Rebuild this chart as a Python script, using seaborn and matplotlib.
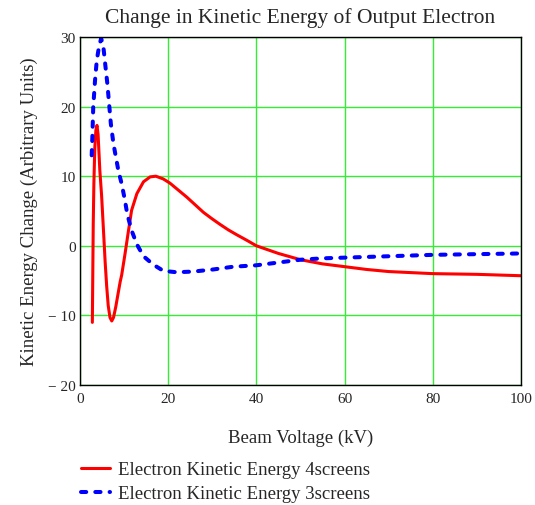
import numpy as np
import pandas as pd
import matplotlib
matplotlib.use("Agg")
import matplotlib.pyplot as plt
import seaborn as sns
from matplotlib.lines import Line2D

# Beam voltage (kV) and kinetic energy change for the 4-screen configuration
volts_4screens = [2.8, 2.9, 3.0, 3.15, 3.35, 3.6, 3.85, 4.1, 4.5, 4.9, 5.3, 5.7,
                  6.05, 6.4, 6.8, 7.2, 7.6, 8.1, 8.6, 9.1, 9.45, 10.2, 11.0,
                  11.7, 12.9, 14.4, 15.9, 17.2, 18.9, 20.4, 22.3, 24.2, 26.1,
                  28.0, 29.9, 31.7, 33.6, 35.5, 37.8, 40.0, 45.0, 50.0, 55.0,
                  60.0, 65.0, 70.0, 80.0, 90.0, 100.0]
energy_4screens = [-11.0, -4.0, 3.0, 9.0, 14.0, 16.6, 17.3, 16.0, 10.8, 7.2,
                   2.5, -2.3, -5.8, -8.6, -10.3, -10.8, -10.3, -8.8, -7.0, -5.2,
                   -4.2, -1.2, 2.2, 5.1, 7.5, 9.2, 9.9, 10.0, 9.6, 9.0, 8.0, 7.0,
                   5.9, 4.8, 3.9, 3.1, 2.3, 1.6, 0.8, 0.0, -1.1, -2.0, -2.6,
                   -3.0, -3.4, -3.7, -4.0, -4.1, -4.3]

# Beam voltage (kV) and kinetic energy change for the 3-screen configuration
volts_3screens = [2.65, 2.8, 3.0, 3.4, 3.8, 4.3, 4.8, 5.3, 5.7, 6.2, 6.6, 7.0,
                  7.6, 8.3, 8.7, 9.45, 10.2, 10.7, 11.7, 12.9, 14.4, 16.6, 18.9,
                  21.9, 25.7, 30.2, 34.8, 40.0, 45.0, 50.0, 55.0, 60.0, 70.0,
                  80.0, 90.0, 100.0]
energy_3screens = [13.0, 15.6, 19.9, 23.7, 26.6, 28.6, 29.8, 28.6, 26.2, 23.3,
                   20.4, 17.5, 14.6, 12.2, 10.8, 8.9, 6.5, 4.6, 2.2, 0.2, -1.5,
                   -2.7, -3.6, -3.8, -3.7, -3.4, -3.0, -2.8, -2.4, -2.0, -1.8,
                   -1.7, -1.5, -1.3, -1.2, -1.1]

x_ticks = [0, 20, 40, 60, 80, 100]
y_ticks = [-20, -10, 0, 10, 20, 30]
y_tick_labels = ["\u2212 20", "\u2212 10", "0", "10", "20", "30"]

label_4 = "Electron Kinetic Energy 4screens"
label_3 = "Electron Kinetic Energy 3screens"

RED = "#ff0000"
BLUE = "#0000ff"
RED_LW = 2.2
BLUE_LW = 2.9
BLUE_DASHES = [1.3, 2.25]

sns.set_style("white")
plt.rcParams["font.family"] = ["Liberation Serif", "DejaVu Serif"]

df4 = pd.DataFrame({"volts": volts_4screens, "energy": energy_4screens})
df3 = pd.DataFrame({"volts": volts_3screens, "energy": energy_3screens})

fig = plt.figure(figsize=(5.35, 5.06), dpi=100)
ax = fig.add_axes([80 / 535, 1 - 386 / 506, 441 / 535, 348 / 506])

sns.lineplot(data=df4, x="volts", y="energy", ax=ax, color=RED,
             linewidth=RED_LW, sort=False, estimator=None)
sns.lineplot(data=df3, x="volts", y="energy", ax=ax, color=BLUE,
             linewidth=BLUE_LW, sort=False, estimator=None)
ax.lines[0].set_solid_joinstyle("round")
blue_line = ax.lines[1]
blue_line.set_dashes(BLUE_DASHES)
blue_line.set_dash_capstyle("round")
blue_line.set_dash_joinstyle("round")

ax.set_xlim(0, 100)
ax.set_ylim(-20, 30)
ax.set_xticks(x_ticks)
ax.set_yticks(y_ticks)
ax.set_yticklabels(y_tick_labels)
ax.grid(True, color="#33ee33", linewidth=1.0)
ax.set_axisbelow(True)
ax.tick_params(axis="both", length=0, labelsize=11, pad=3)
ax.tick_params(axis="x", pad=5)
for sp in ax.spines.values():
    sp.set_color("black")
    sp.set_linewidth(1.0)

ax.set_title("Change in Kinetic Energy of Output Electron", fontsize=15.5, pad=11)
ax.set_xlabel("Beam Voltage (kV)", fontsize=13.5, labelpad=17)
ax.set_ylabel("Kinetic Energy Change (Arbitrary Units)", fontsize=13.5, labelpad=7)

handles = [Line2D([], [], color=RED, linewidth=RED_LW),
           Line2D([], [], color=BLUE, linewidth=BLUE_LW, dashes=BLUE_DASHES,
                  dash_capstyle="round")]
fig.legend(handles, [label_4, label_3], loc="upper left",
           bbox_to_anchor=(81 / 535, 1 - 462 / 506), frameon=False,
           fontsize=13.5, handlelength=1.55, handletextpad=0.45,
           labelspacing=0.38, borderaxespad=0, borderpad=0)

fig.savefig("out.png", dpi=100)
